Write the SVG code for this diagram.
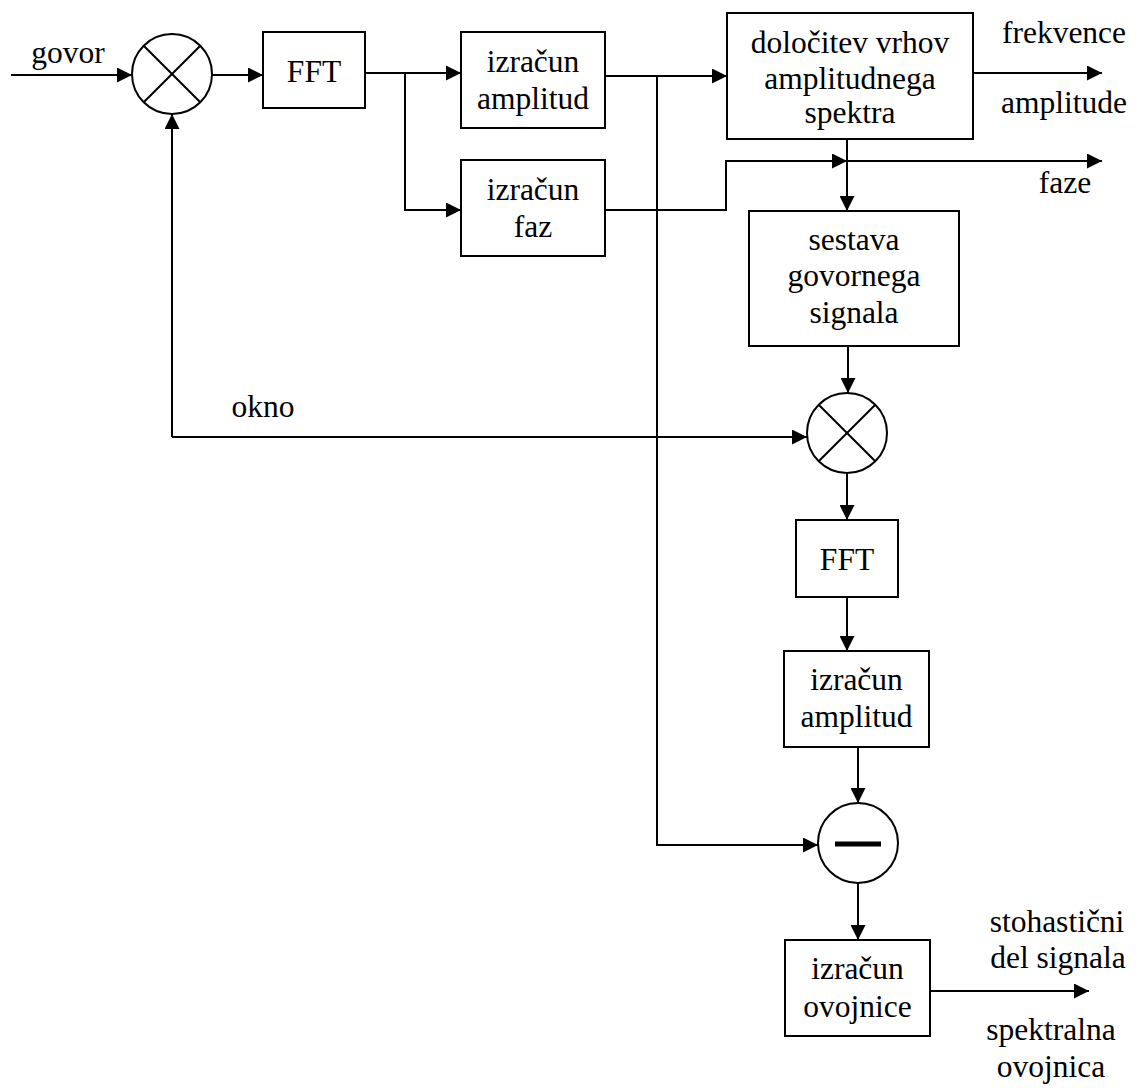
<svg xmlns="http://www.w3.org/2000/svg" width="1141" height="1088" viewBox="0 0 1141 1088">
  <style>
    .box { fill: #fff; stroke: #000; stroke-width: 2; }
    .op { fill: #fff; stroke: #000; stroke-width: 2; }
    .x { stroke: #000; stroke-width: 2; fill: none; }
    .wire { stroke: #000; stroke-width: 2; fill: none; }
    .arr { marker-end: url(#head); }
  </style>
  <defs>
    <marker id="head" markerUnits="userSpaceOnUse" markerWidth="15" markerHeight="15" refX="15" refY="7.5" orient="auto">
      <path d="M0,0 L15,7.5 L0,15 z" fill="#000"/>
    </marker>
  </defs>

  <rect width="1141" height="1088" fill="#fff"/>

  <!-- connectors -->
  <g id="connectors">
    <path class="wire arr" d="M11,75 H132"/>
    <path class="wire arr" d="M212,75 H263"/>
    <path class="wire arr" d="M365,73 H461"/>
    <path class="wire arr" d="M405,73 V210 H461"/>
    <path class="wire arr" d="M605,76 H727"/>
    <path class="wire arr" d="M657,76 V845 H818"/>
    <path class="wire arr" d="M605,210 H726 V161 H847"/>
    <path class="wire arr" d="M847,161 H1102"/>
    <path class="wire arr" d="M847,139 V211"/>
    <path class="wire arr" d="M973,73 H1102"/>
    <path class="wire arr" d="M848,346 V393"/>
    <path class="wire arr" d="M172,437 H807"/>
    <path class="wire arr" d="M172,437 V114"/>
    <path class="wire arr" d="M847,473 V520"/>
    <path class="wire arr" d="M847,597 V651"/>
    <path class="wire arr" d="M858,747 V803"/>
    <path class="wire arr" d="M858,883 V940"/>
    <path class="wire arr" d="M930,991 H1089"/>
  </g>

  <g font-family="'Liberation Serif', 'DejaVu Serif', serif" font-size="31.5" fill="#000" text-anchor="middle">
    <!-- free labels on signals -->
    <g id="labels">
      <text x="68" y="63">govor</text>
      <text x="1064" y="43">frekvence</text>
      <text x="1064" y="113">amplitude</text>
      <text x="1065" y="193">faze</text>
      <text x="263" y="417">okno</text>
      <text x="1057" y="932">stohastični</text>
      <text x="1058" y="968">del signala</text>
      <text x="1051" y="1040">spektralna</text>
      <text x="1051" y="1077">ovojnica</text>
    </g>

    <!-- multiplier at input -->
    <g id="mul1">
      <circle class="op" cx="172" cy="74" r="40"/>
      <path class="x" d="M143.7,45.7 L200.3,102.3 M200.3,45.7 L143.7,102.3"/>
    </g>

    <g id="fft1">
      <rect class="box" x="263" y="32" width="102" height="76"/>
      <text x="314" y="82">FFT</text>
    </g>

    <g id="amp1">
      <rect class="box" x="461" y="32" width="144" height="96"/>
      <text x="533" y="72">izračun</text>
      <text x="533" y="109">amplitud</text>
    </g>

    <g id="faz">
      <rect class="box" x="461" y="160" width="144" height="96"/>
      <text x="533" y="200">izračun</text>
      <text x="533" y="237">faz</text>
    </g>

    <g id="peaks">
      <rect class="box" x="727" y="13" width="246" height="126"/>
      <text x="850" y="53">določitev vrhov</text>
      <text x="850" y="88.5">amplitudnega</text>
      <text x="850" y="123">spektra</text>
    </g>

    <g id="synth">
      <rect class="box" x="749" y="211" width="210" height="135"/>
      <text x="854" y="250">sestava</text>
      <text x="854" y="286">govornega</text>
      <text x="854" y="323">signala</text>
    </g>

    <g id="mul2">
      <circle class="op" cx="847" cy="433" r="40"/>
      <path class="x" d="M818.7,404.7 L875.3,461.3 M875.3,404.7 L818.7,461.3"/>
    </g>

    <g id="fft2">
      <rect class="box" x="796" y="520" width="102" height="77"/>
      <text x="847" y="570">FFT</text>
    </g>

    <g id="amp2">
      <rect class="box" x="784" y="651" width="145" height="96"/>
      <text x="856.5" y="690">izračun</text>
      <text x="856.5" y="727">amplitud</text>
    </g>

    <g id="sub">
      <circle class="op" cx="858" cy="843" r="40"/>
      <rect x="835" y="841.5" width="46" height="5" fill="#000"/>
    </g>

    <g id="env">
      <rect class="box" x="785" y="940" width="145" height="96"/>
      <text x="857.5" y="979">izračun</text>
      <text x="857.5" y="1017">ovojnice</text>
    </g>
  </g>
</svg>
